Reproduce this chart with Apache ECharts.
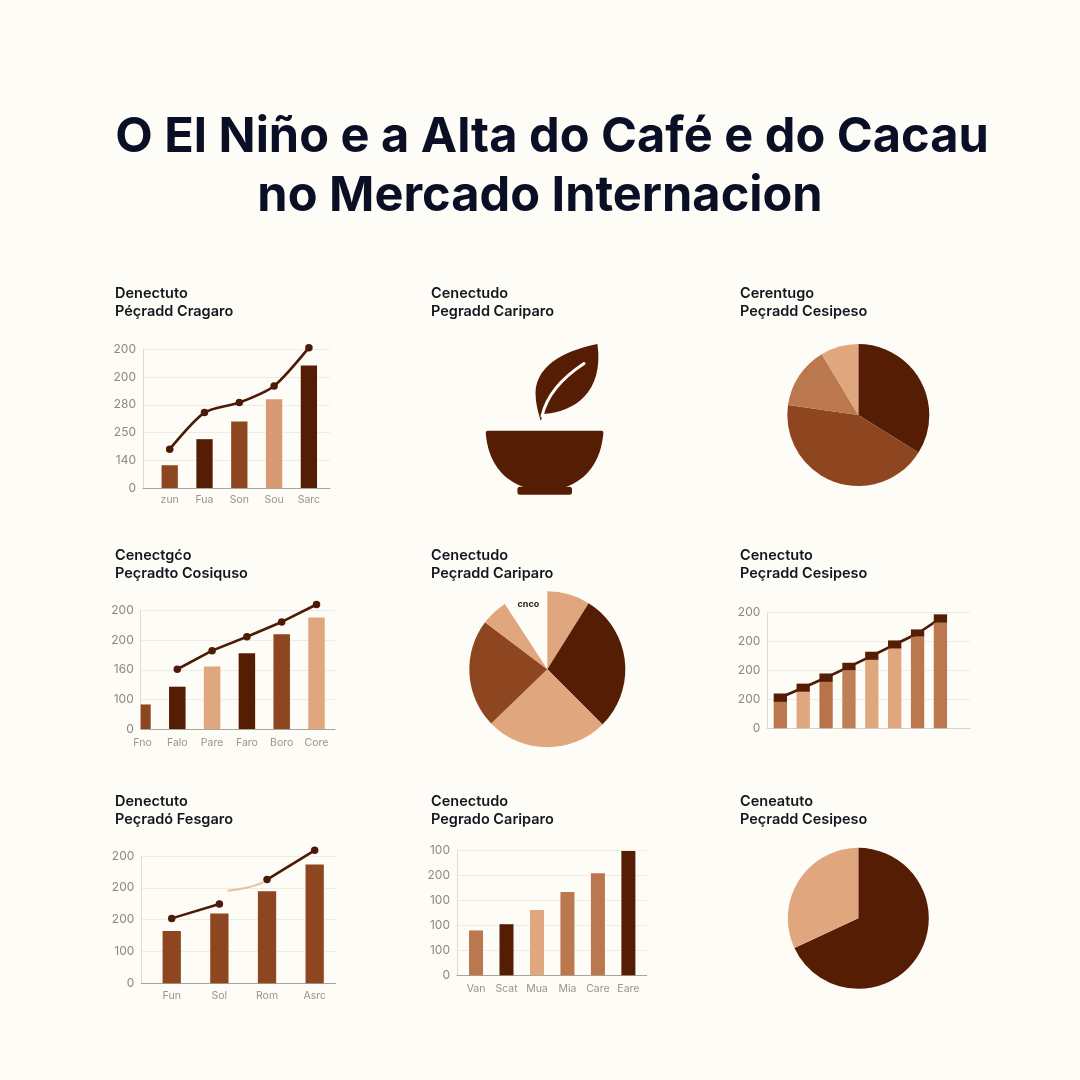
<!DOCTYPE html>
<html><head><meta charset="utf-8">
<style>html,body{margin:0;padding:0;background:#FDFCF6}#c{width:1080px;height:1080px}</style>
<script src="https://cdn.jsdelivr.net/npm/echarts@6/dist/echarts.min.js"></script>
</head><body><div id="c"></div>
<script>
// ---------- text ----------
const mainTitle1 = 'O El Niño e a Alta do Café e do Cacau';
const mainTitle2 = 'no Mercado Internacion';
const panelTitles = [
  'Denectuto\nPéçradd Cragaro', 'Cenectudo\nPegradd Cariparo', 'Cerentugo\nPeçradd Cesipeso',
  'Cenectgćo\nPeçradto Cosiquso', 'Cenectudo\nPeçradd Cariparo', 'Cenectuto\nPeçradd Cesipeso',
  'Denectuto\nPeçradó Fesgaro', 'Cenectudo\nPegrado Cariparo', 'Ceneatuto\nPeçradd Cesipeso'
];
// ---------- colours ----------
const D = '#551D03', M = '#8E4620', T = '#BB774D', L = '#E0A67E', L2 = '#D79A72';
// ---------- chart 1 ----------
const cats1 = ['zun', 'Fua', 'Son', 'Sou', 'Sarc'];
const yTicks1 = ['0', '140', '250', '280', '200', '200'];
const bars1 = [41, 88, 120, 160, 221];
const line1 = [70, 136, 154, 184, 253];
const colors1 = [M, D, M, L2, D];
// ---------- chart 2 ----------
const cats2 = ['Fno', 'Falo', 'Pare', 'Faro', 'Boro', 'Core'];
const yTicks2 = ['0', '100', '160', '200', '200'];
const bars2 = [83, 143, 211, 256, 320, 377];
const line2 = [null, 202, 265, 312, 362, 421];
const colors2 = [M, D, L, D, M, L];
// ---------- chart 3 ----------
const cats3 = ['', '', '', '', '', '', '', ''];
const yTicks3 = ['0', '200', '200', '200', '200'];
const base3 = [91, 126, 160, 200, 236, 275, 316, 364];
const cap3 = [29, 28, 29, 26, 28, 28, 25, 29];
const line3 = [106, 140, 175, 212, 250, 289, 327, 379];
const colors3 = [T, L, '#B8734A', '#C08055', L, L, T, T];
// ---------- chart 4 ----------
const cats4 = ['Fun', 'Sol', 'Rom', 'Asrc'];
const yTicks4 = ['0', '100', '200', '200', '200'];
const bars4 = [164, 219, 289, 373];
const line4a = [204, 249, null, null];
const line4b = [null, null, 326, 418];
const colors4 = [M, M, M, M];
const faint4 = [[0.444, 291], [0.542, 300], [0.628, 317]];
// ---------- chart 5 ----------
const cats5 = ['Van', 'Scat', 'Mua', 'Mia', 'Care', 'Eare'];
const yTicks5 = ['0', '100', '100', '100', '200', '100'];
const bars5 = [180, 205, 262, 334, 410, 499];
const colors5 = [T, D, L, T, T, D];
// ---------- pies ----------
const pieA = [122, 156, 51, 31];
const pieAColors = [D, M, T, L];
const pieB = [32, 103, 91, 81, 20, 33];
const pieBColors = [L, D, L, M, L, 'transparent'];
const pieBGapLabel = 'cnco';
const pieC = [245, 115];
const pieCColors = [D, L];

const FONT = 'Inter, "Noto Sans", sans-serif';
const opt = { animation: false, backgroundColor: '#FDFCF6', title: [], grid: [], xAxis: [], yAxis: [], series: [], graphic: [] };

opt.title.push({ text: mainTitle1, left: 552, textAlign: 'center', top: 113, padding: 0, textStyle: { fontFamily: FONT, fontSize: 48.7, fontWeight: 700, color: '#0A0F26' } });
opt.title.push({ text: mainTitle2, left: 540, textAlign: 'center', top: 172, padding: 0, textStyle: { fontFamily: FONT, fontSize: 48.7, fontWeight: 700, color: '#0A0F26' } });
const colX = [115, 431, 740], rowY = [284, 546, 792];
panelTitles.forEach((t, i) => opt.title.push({
  text: t, left: colX[i % 3], top: rowY[Math.floor(i / 3)], padding: 0,
  textStyle: { fontFamily: FONT, fontSize: 14.5, fontWeight: 600, color: '#14161F', lineHeight: 18.5 }
}));

function hiddenY(gridIndex, max, interval) { return { type: 'value', gridIndex, min: 0, max, interval, show: false }; }

function addCartesian(c) {
  const yMax = (c.yTicks.length - 1) * c.yInt;
  // frame grid: carries the axis lines, grid lines and value labels
  const frameIdx = opt.grid.length;
  opt.grid.push({ left: c.axisL, top: c.top, width: c.axisR - c.axisL, height: c.bottom - c.top });
  opt.xAxis.push({ type: 'value', gridIndex: frameIdx, min: 0, max: 1, axisLine: { show: true, onZero: false, lineStyle: { color: c.baseColor || '#A9A69F', width: 1 } }, axisTick: { show: false }, axisLabel: { show: false }, splitLine: { show: false } });
  opt.yAxis.push({
    type: 'value', gridIndex: frameIdx, min: 0, max: yMax, interval: c.yInt,
    axisLine: { show: true, lineStyle: { color: '#DEDBD3', width: 1 } }, axisTick: { show: false },
    splitLine: { show: true, lineStyle: { color: '#EFECE4', width: 1 } },
    axisLabel: { margin: 7, fontFamily: FONT, fontSize: 12, color: '#8C8883', formatter: v => c.yTicks[Math.round(v / c.yInt)] }
  });
  // mark grid: carries the bars, lines and category labels
  const idx = opt.grid.length;
  opt.grid.push({ left: c.bandL, top: c.top, width: c.bandW * c.cats.length, height: c.bottom - c.top });
  opt.xAxis.push({ type: 'category', gridIndex: idx, data: c.cats, axisLine: { show: false }, axisTick: { show: false }, splitLine: { show: false },
    axisLabel: { interval: 0, margin: c.xMargin, fontFamily: FONT, fontSize: 10.5, color: '#98948F' } });
  opt.yAxis.push(hiddenY(idx, yMax, c.yInt));
  return { frameIdx, idx, yMax };
}
function barData(vals, cols) { return vals.map((v, i) => ({ value: v, itemStyle: { color: cols[i] } })); }
function lineSeries(idx, data, extra) {
  return Object.assign({ type: 'line', xAxisIndex: idx, yAxisIndex: idx, data, clip: false, z: 5, connectNulls: false,
    symbol: 'circle', symbolSize: 7.5, itemStyle: { color: '#4C1A06' }, lineStyle: { color: '#4C1A06', width: 2.6 } }, extra || {});
}

// chart 1
let g = addCartesian({ axisL: 143, axisR: 330, top: 349.3, bottom: 488, bandL: 152.3, bandW: 34.8, cats: cats1, yTicks: yTicks1, yInt: 50, xMargin: 6 });
opt.series.push({ type: 'bar', xAxisIndex: g.idx, yAxisIndex: g.idx, data: barData(bars1, colors1), barWidth: 16.3 });
opt.series.push(lineSeries(g.idx, line1, { smooth: 0.25 }));

// chart 2
g = addCartesian({ axisL: 140.7, axisR: 335, top: 610.7, bottom: 729, bandL: 125.1, bandW: 34.8, cats: cats2, yTicks: yTicks2, yInt: 100, xMargin: 8 });
opt.series.push({ type: 'bar', xAxisIndex: g.idx, yAxisIndex: g.idx, data: barData(bars2, colors2).map((d, i) => i === 0 ? '-' : d), barWidth: 16.5 });
opt.series.push(lineSeries(g.idx, line2));
// first bar of chart 2 is cut off by the axis: it has a slot of its own, narrower
const cutIdx = opt.grid.length;
opt.grid.push({ left: 140.7, top: 610.7, width: 10, height: 729 - 610.7 });
opt.xAxis.push({ type: 'category', gridIndex: cutIdx, data: [cats2[0]], show: false });
opt.yAxis.push(hiddenY(cutIdx, 400, 100));
opt.series.push({ type: 'bar', xAxisIndex: cutIdx, yAxisIndex: cutIdx, data: [{ value: bars2[0], itemStyle: { color: colors2[0] } }], barWidth: '100%' });

// chart 3 (stacked, no category labels)
g = addCartesian({ axisL: 767.3, axisR: 970, top: 612.3, bottom: 728.3, bandL: 768.9, bandW: 22.87, cats: cats3, yTicks: yTicks3, yInt: 100, xMargin: 8, baseColor: '#D6D3CB' });
opt.series.push({ type: 'bar', stack: 's3', xAxisIndex: g.idx, yAxisIndex: g.idx, data: barData(base3, colors3), barWidth: 13.3 });
opt.series.push(lineSeries(g.idx, line3, { symbol: 'none', z: 1 }));
opt.series.push({ type: 'bar', stack: 's3', xAxisIndex: g.idx, yAxisIndex: g.idx, data: cap3, itemStyle: { color: D }, barWidth: 13.3, z: 3 });

// chart 4
g = addCartesian({ axisL: 141.3, axisR: 335.7, top: 856, bottom: 983.3, bandL: 147.9, bandW: 47.65, cats: cats4, yTicks: yTicks4, yInt: 100, xMargin: 7 });
opt.series.push({ type: 'bar', xAxisIndex: g.idx, yAxisIndex: g.idx, data: barData(bars4, colors4), barWidth: 18.3 });
opt.series.push(lineSeries(g.idx, line4a));
opt.series.push(lineSeries(g.idx, line4b));
opt.series.push({ type: 'line', xAxisIndex: g.frameIdx, yAxisIndex: g.frameIdx, data: faint4, smooth: true, symbol: 'none', lineStyle: { color: '#EBBE9E', width: 2 }, z: 4 });

// chart 5
g = addCartesian({ axisL: 457, axisR: 646.7, top: 850.7, bottom: 975.3, bandL: 460.8, bandW: 30.47, cats: cats5, yTicks: yTicks5, yInt: 100, xMargin: 8 });
opt.series.push({ type: 'bar', xAxisIndex: g.idx, yAxisIndex: g.idx, data: barData(bars5, colors5), barWidth: 14 });

// pies
function addPie(vals, cols, cx, cy, r, labelAt, label) {
  const s = {
    type: 'pie', center: [cx, cy], radius: r, startAngle: 90, clockwise: true, silent: true, avoidLabelOverlap: false,
    labelLine: { show: false },
    label: { show: false },
    data: vals.map((v, i) => ({
      value: v, itemStyle: { color: cols[i] },
      label: i === labelAt ? { show: true, position: 'inside', formatter: label, fontFamily: FONT, fontSize: 9, fontWeight: 700, color: '#2A1A12' } : { show: false }
    }))
  };
  if (labelAt !== undefined) s.labelLayout = { dx: -7, dy: -25 };
  opt.series.push(s);
}
addPie(pieA, pieAColors, 858.3, 415, 71);
addPie(pieB, pieBColors, 547.3, 669.3, 78, 5, pieBGapLabel);
addPie(pieC, pieCColors, 858.3, 918.3, 70.5);

// leaf-and-bowl pictogram
const leafPath = 'M597.5 344 C572 349 536 362 535.5 393 C535.5 403 538 412 540.8 421 L543 414 C575 412 604 392 597.5 344 Z';
const veinPath = 'M542 416 C547 394 562 378 584 363.5';
const bowlPath = 'M488 430.7 L601.5 430.7 Q603.6 430.7 603.4 433 C601 462 586 480 566 486.8 L569.5 486.8 Q572 486.8 572 489.5 L572 492.5 Q572 494.8 569.5 494.8 L519.8 494.8 Q517.4 494.8 517.4 492.5 L517.4 489.5 Q517.4 486.8 519.8 486.8 L523.5 486.8 C503 480 488 462 485.7 433 Q485.6 430.7 488 430.7 Z';
echarts.graphic.registerShape('leafShape', echarts.graphic.extendPath(leafPath, {}));
echarts.graphic.registerShape('veinShape', echarts.graphic.extendPath(veinPath, {}));
echarts.graphic.registerShape('bowlShape', echarts.graphic.extendPath(bowlPath, {}));
opt.graphic.push({ type: 'leafShape', style: { fill: D } });
opt.graphic.push({ type: 'veinShape', style: { fill: 'none', stroke: '#FDFCF6', lineWidth: 3, lineCap: 'round' } });
opt.graphic.push({ type: 'bowlShape', style: { fill: D } });

echarts.init(document.getElementById('c'), null, { renderer: 'canvas' }).setOption(opt);
</script></body></html>
